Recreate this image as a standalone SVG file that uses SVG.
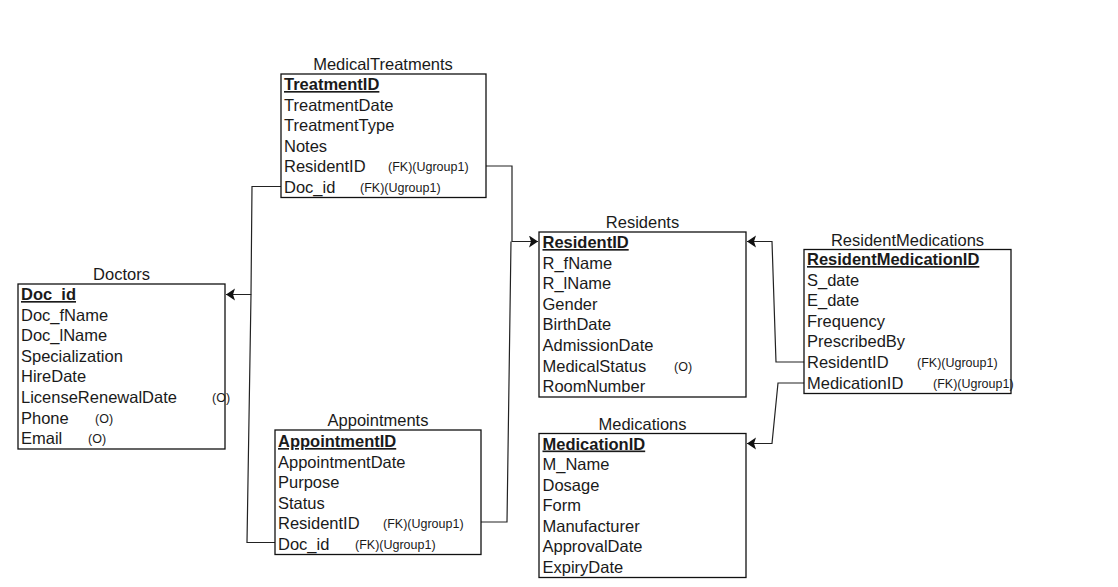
<svg xmlns="http://www.w3.org/2000/svg" width="1118" height="587" viewBox="0 0 1118 587">
<style>
text{font-family:"Liberation Sans",Arial,sans-serif;fill:#1a1a1a}
.t{font-size:16.5px;text-anchor:middle}
.r{font-size:16.5px}
.pk{font-size:16.5px;font-weight:bold;text-decoration:underline}
.s{font-size:12.5px}
.box{fill:#fff;stroke:#111;stroke-width:1.3}
.c{fill:none;stroke:#222;stroke-width:1.2}
</style>
<defs>
<marker id="arr" markerUnits="userSpaceOnUse" markerWidth="12" markerHeight="14" refX="9" refY="6" orient="auto">
<path d="M0,0 L9,6 L0,12 L2,6 z" fill="#111"/>
</marker>
</defs>
<rect width="1118" height="587" fill="#fff"/>
<g id="connectors">
<path class="c" d="M281,186.5 H252 L251,294.5 H226" marker-end="url(#arr)"/>
<path class="c" d="M275,542.5 H247 L251,294.5"/>
<path class="c" d="M486,166 H512 V241.5 H538" marker-end="url(#arr)"/>
<path class="c" d="M481,522 H507 L511,241.5"/>
<path class="c" d="M804,362 H776 L772,241.5 H747" marker-end="url(#arr)"/>
<path class="c" d="M804,383 H778 L772,443.5 H747" marker-end="url(#arr)"/>
</g>
<g id="MedicalTreatments">
<text class="t" x="383" y="70">MedicalTreatments</text>
<rect class="box" x="281" y="74" width="205" height="123.5"/>
<text class="pk" x="284" y="90">TreatmentID</text>
<text class="r" x="284" y="110.5">TreatmentDate</text>
<text class="r" x="284" y="131">TreatmentType</text>
<text class="r" x="284" y="151.5">Notes</text>
<text class="r" x="284" y="172">ResidentID</text>
<text class="s" x="388" y="171">(FK)(Ugroup1)</text>
<text class="r" x="284" y="192.5">Doc_id</text>
<text class="s" x="360" y="191.5">(FK)(Ugroup1)</text>
</g>
<g id="Doctors">
<text class="t" x="121.5" y="280">Doctors</text>
<rect class="box" x="18" y="284" width="207" height="165"/>
<text class="pk" x="21" y="300">Doc_id</text>
<text class="r" x="21" y="320.6">Doc_fName</text>
<text class="r" x="21" y="341.2">Doc_lName</text>
<text class="r" x="21" y="361.8">Specialization</text>
<text class="r" x="21" y="382.4">HireDate</text>
<text class="r" x="21" y="403">LicenseRenewalDate</text>
<text class="s" x="212" y="402">(O)</text>
<text class="r" x="21" y="423.6">Phone</text>
<text class="s" x="95" y="422.6">(O)</text>
<text class="r" x="21" y="444.2">Email</text>
<text class="s" x="88" y="443.2">(O)</text>
</g>
<g id="Appointments">
<text class="t" x="378" y="426">Appointments</text>
<rect class="box" x="275" y="430" width="206" height="124.5"/>
<text class="pk" x="278" y="447">AppointmentID</text>
<text class="r" x="278" y="467.5">AppointmentDate</text>
<text class="r" x="278" y="488">Purpose</text>
<text class="r" x="278" y="508.5">Status</text>
<text class="r" x="278" y="529">ResidentID</text>
<text class="s" x="383" y="528">(FK)(Ugroup1)</text>
<text class="r" x="278" y="549.5">Doc_id</text>
<text class="s" x="355" y="548.5">(FK)(Ugroup1)</text>
</g>
<g id="Residents">
<text class="t" x="642.5" y="228">Residents</text>
<rect class="box" x="539" y="232" width="207" height="165"/>
<text class="pk" x="542.5" y="248">ResidentID</text>
<text class="r" x="542.5" y="268.6">R_fName</text>
<text class="r" x="542.5" y="289.2">R_lName</text>
<text class="r" x="542.5" y="309.8">Gender</text>
<text class="r" x="542.5" y="330.4">BirthDate</text>
<text class="r" x="542.5" y="351">AdmissionDate</text>
<text class="r" x="542.5" y="371.6">MedicalStatus</text>
<text class="s" x="674" y="370.6">(O)</text>
<text class="r" x="542.5" y="392.2">RoomNumber</text>
</g>
<g id="Medications">
<text class="t" x="642.5" y="429.5">Medications</text>
<rect class="box" x="539" y="433.5" width="207" height="144"/>
<text class="pk" x="542.5" y="449.5">MedicationID</text>
<text class="r" x="542.5" y="470">M_Name</text>
<text class="r" x="542.5" y="490.5">Dosage</text>
<text class="r" x="542.5" y="511">Form</text>
<text class="r" x="542.5" y="531.5">Manufacturer</text>
<text class="r" x="542.5" y="552">ApprovalDate</text>
<text class="r" x="542.5" y="572.5">ExpiryDate</text>
</g>
<g id="ResidentMedications">
<text class="t" x="907.5" y="245.5">ResidentMedications</text>
<rect class="box" x="804" y="249.5" width="207" height="144"/>
<text class="pk" x="807" y="265">ResidentMedicationID</text>
<text class="r" x="807" y="285.6">S_date</text>
<text class="r" x="807" y="306.2">E_date</text>
<text class="r" x="807" y="326.8">Frequency</text>
<text class="r" x="807" y="347.4">PrescribedBy</text>
<text class="r" x="807" y="368">ResidentID</text>
<text class="s" x="917" y="367">(FK)(Ugroup1)</text>
<text class="r" x="807" y="388.6">MedicationID</text>
<text class="s" x="933" y="387.6">(FK)(Ugroup1)</text>
</g>
</svg>
